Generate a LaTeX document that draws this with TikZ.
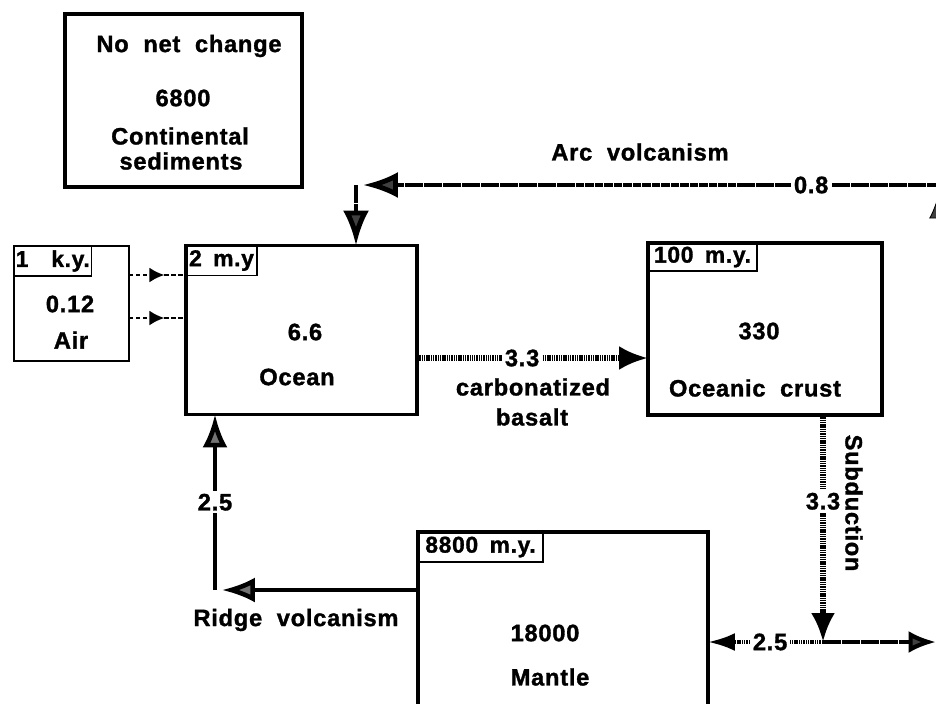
\documentclass[tikz,border=0pt]{standalone}
\usepackage{fontspec}
\setmainfont{Liberation Sans}[LetterSpace=3,WordSpace=2,BoldFeatures={FakeBold=1.3}]
\usetikzlibrary{arrows.meta, positioning, decorations.markings}

\begin{document}
\begin{tikzpicture}[x=0.02cm, y=-0.02cm, font=\bfseries\fontsize{13.5}{15}\selectfont,
    res/.style={draw, line width=2pt, outer sep=0pt, inner sep=0pt},
    tag/.style={draw, line width=1.1pt, outer sep=0pt, inner sep=1pt, anchor=north west,
        minimum height=0.6cm, font=\bfseries\fontsize{13}{14}\selectfont},
    cut/.style={fill=white, inner sep=1.5pt},
    arcflow/.style={line width=2.8pt, dash pattern=on 5pt off 0.4pt,
        -{Latex[length=0.7cm, width=0.52cm, fill=black!75]}},
    outflow/.style={line width=2.4pt, dash pattern=on 5pt off 0.4pt,
        -{Latex[length=0.55cm, width=0.44cm, fill=black!75]}},
    cbflow/.style={line width=3pt, dash pattern=on 0.8pt off 0.5pt,
        -{Latex[length=0.58cm, width=0.48cm]}},
    tickflow/.style={line width=2.2pt, dash pattern=on 0.8pt off 0.5pt,
        -{Latex[length=0.54cm, width=0.36cm]}},
    ridgeflow/.style={line width=2.6pt,
        -{Latex[length=0.66cm, width=0.5cm, fill=black!55]}},
    faint/.style={line width=0.5pt, gray, dashed,
        -{Latex[length=0.45cm, width=0.36cm, color=black, fill=black!75]}},
    airflow/.style={line width=1.2pt, dash pattern=on 2.5pt off 1.5pt, postaction={decorate},
        decoration={markings, mark=at position 0.62 with {\arrow{Latex[length=0.3cm, width=0.3cm]}}}}]

    \useasboundingbox (0,0) rectangle (936,703);

    % reservoirs
    \node[res, minimum width=4.74cm, minimum height=3.46cm] (sed) at (183.5,100.5) {};
    \node[res, line width=1.3pt, minimum width=2.3cm, minimum height=2.3cm] (air) at (71.5,303.5) {};
    \node[res, minimum width=4.62cm, minimum height=3.38cm] (ocean) at (301.5,330) {};
    \node[res, minimum width=4.68cm, minimum height=3.44cm] (crust) at (765,329) {};
    \node[res, minimum width=5.8cm, minimum height=4.6cm] (mantle) at (563,647) {};

    % residence times
    \node[tag, minimum width=1.4cm] (airtag) at (air.north west) {1\quad k.y.};
    \node[tag, minimum width=1.42cm] (oceantag) at (ocean.north west) {2\enspace m.y};
    \node[tag, minimum width=2.18cm, minimum height=0.56cm] (crusttag) at (crust.north west) {100\enspace m.y.};
    \node[tag, minimum width=2.5cm] (mantletag) at (mantle.north west) {8800\enspace m.y.};

    % contents
    \node (sedhead) at (189,46) {No net change};
    \node (sedval) at (183,98) {6800};
    \node (sedname) at (180,136) {Continental};
    \node (sedname2) at (181,161) {sediments};
    \node (airval) at (70,304) {0.12};
    \node (airname) at (71,340) {Air};
    \node (oceanval) at (305,332) {6.6};
    \node (oceanname) at (297,377) {Ocean};
    \node (crustval) at (759,331) {330};
    \node (crustname) at (755,388) {Oceanic crust};
    \node (mantleval) at (545,633) {18000};
    \node (mantlename) at (550,677) {Mantle};

    % air - ocean exchange
    \coordinate (airhi) at (0,275);
    \coordinate (airlo) at (0,318);
    \draw[airflow] (air.east |- airhi) -- (ocean.west |- airhi);
    \draw[airflow] (air.east |- airlo) -- (ocean.west |- airlo);

    % arc volcanism
    \coordinate (arcfoot) at (938,415);
    \coordinate (arcrise) at (938,196);
    \coordinate (arcturn) at (945,185);
    \coordinate (arcbend) at (356,185);
    \draw[faint] (arcfoot) -- (arcrise);
    \draw[arcflow] (arcturn) -- ([xshift=0.14cm]arcbend) node[cut, pos=0.23] {0.8};
    \draw[arcflow] (arcbend) -- (arcbend |- ocean.north);
    \node (arclbl) at (640,152) {Arc volcanism};

    % carbonatized basalt
    \coordinate (cbrow) at (0,358);
    \draw[cbflow] (ocean.east |- cbrow) -- (crust.west |- cbrow) node[cut, pos=0.455] {3.3};
    \node (cblbl) at (533,387) {carbonatized};
    \node (cblbl2) at (532,417) {basalt};

    % subduction
    \coordinate (subfoot) at (823,642);
    \draw[cbflow] (crust.south -| subfoot) -- (subfoot) node[cut, pos=0.38] {3.3};
    \node[rotate=-90] (sublbl) at (854,503) {Subduction};
    \draw[tickflow] (subfoot) -- (mantle.east |- subfoot) node[cut, pos=0.46] {2.5};
    \coordinate (outend) at (936,642);
    \draw[outflow] (subfoot) -- (outend);

    % ridge volcanism
    \coordinate (ridgebend) at (215,590);
    \draw[ridgeflow] (mantle.west |- ridgebend) -- ([xshift=0.14cm]ridgebend);
    \draw[ridgeflow] (ridgebend) -- (ridgebend |- ocean.south) node[cut, pos=0.5] {2.5};
    \node (ridgelbl) at (296,620) {Ridge volcanism};
\end{tikzpicture}
\end{document}
